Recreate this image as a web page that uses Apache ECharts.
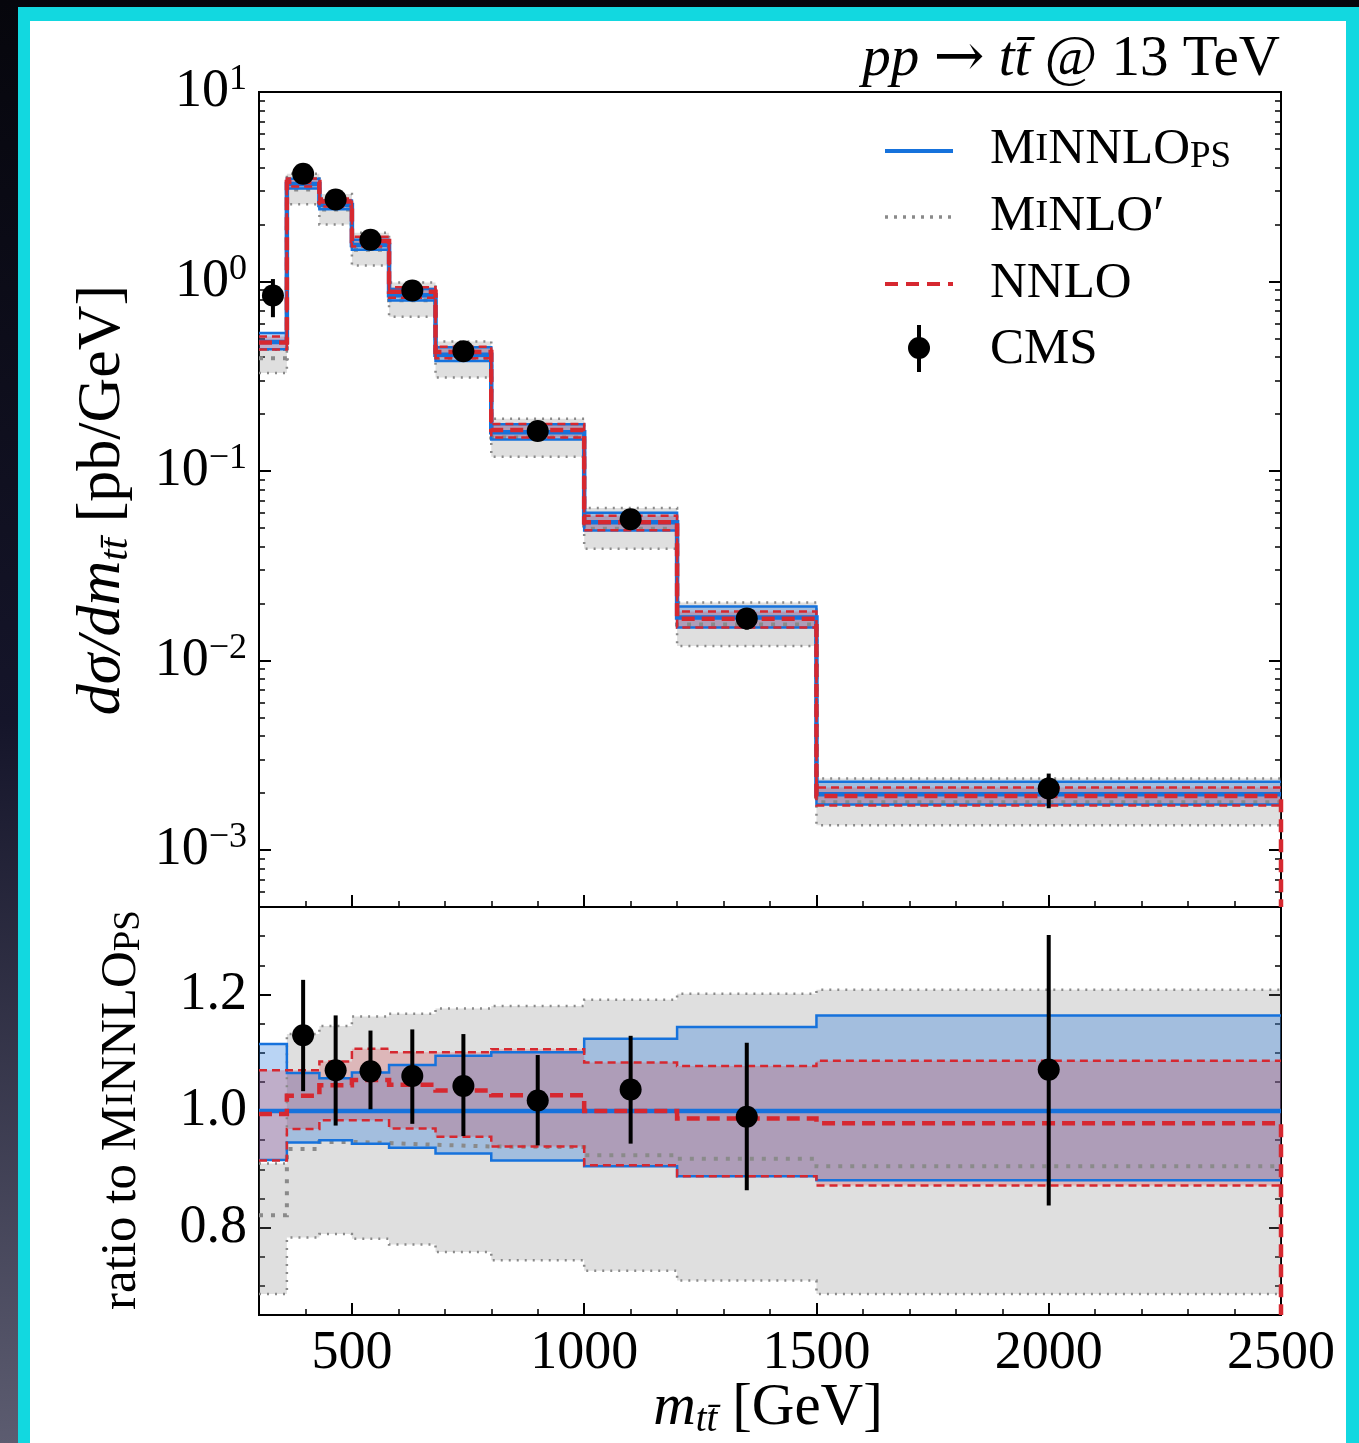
<!DOCTYPE html>
<html lang="en">
<head>
<meta charset="UTF-8">
<title>m_tt distribution</title>
<style>
    html, body {
        margin: 0;
        padding: 0;
        width: 1359px;
        height: 1443px;
        overflow: hidden;
        background: linear-gradient(180deg, #06060c 0%, #15152a 50%, #5c5c70 100%);
    }
    #frame {
        position: absolute;
        left: 18px;
        top: 7px;
        width: 1341px;
        height: 1436px;
        background: #12d8e0;
    }
    #paper {
        position: absolute;
        left: 30px;
        top: 21px;
        width: 1316px;
        height: 1422px;
        background: #fff;
    }
    #chart {
        position: absolute;
        left: 0;
        top: 0;
        width: 1359px;
        height: 1443px;
    }
</style>
</head>
<body>
<div id="frame"></div>
<div id="paper"></div>
<div id="chart"></div>

<script src="https://cdn.jsdelivr.net/npm/echarts@6/dist/echarts.min.js"></script>
<script>
    // bin edges in GeV
    const edges = [300, 360, 430, 500, 580, 680, 800, 1000, 1200, 1500, 2500];

    // upper panel, dsigma/dm in pb/GeV
    const minnloMid = [0.479, 3.27, 2.53, 1.556, 0.846, 0.411, 0.160, 0.0536, 0.01684, 0.00197];
    const minnloHi  = [0.534, 3.483, 2.672, 1.659, 0.913, 0.450, 0.1762, 0.0602, 0.01926, 0.002293];
    const minnloLo  = [0.439, 3.093, 2.404, 1.469, 0.793, 0.381, 0.1464, 0.0485, 0.01495, 0.001736];
    const minloMid  = [0.393, 3.057, 2.396, 1.470, 0.797, 0.386, 0.1501, 0.0495, 0.01546, 0.001783];
    const minloHi   = [0.436, 3.702, 2.899, 1.808, 0.987, 0.483, 0.1888, 0.0638, 0.02022, 0.00238];
    const minloLo   = [0.329, 2.560, 1.996, 1.215, 0.652, 0.3115, 0.1190, 0.0389, 0.01194, 0.001351];
    const nnloMid   = [0.477, 3.355, 2.641, 1.638, 0.884, 0.425, 0.1643, 0.0536, 0.01662, 0.001929];
    const nnloHi    = [0.513, 3.499, 2.745, 1.722, 0.931, 0.4525, 0.1770, 0.0580, 0.01814, 0.002139];
    const nnloLo    = [0.438, 3.169, 2.490, 1.531, 0.821, 0.393, 0.1502, 0.0486, 0.01495, 0.001718];

    const cmsX  = [330, 395, 465, 540, 630, 740, 900, 1100, 1350, 2000];
    const cmsY  = [0.844, 3.70, 2.71, 1.66, 0.897, 0.428, 0.1625, 0.0556, 0.01667, 0.00211];
    const cmsLo = [0.648, 3.39, 2.47, 1.56, 0.828, 0.393, 0.150, 0.0506, 0.01455, 0.00166];
    const cmsHi = [1.03, 4.01, 2.95, 1.77, 0.965, 0.465, 0.175, 0.0605, 0.0188, 0.00253];

    // lower panel, ratio to MiNNLO_PS
    const rMinnloMid = [1, 1, 1, 1, 1, 1, 1, 1, 1, 1];
    const rMinnloHi  = [1.115, 1.065, 1.056, 1.066, 1.079, 1.095, 1.101, 1.124, 1.144, 1.164];
    const rMinnloLo  = [0.916, 0.946, 0.950, 0.944, 0.937, 0.927, 0.915, 0.905, 0.888, 0.881];
    const rMinloMid  = [0.821, 0.935, 0.947, 0.945, 0.942, 0.939, 0.938, 0.924, 0.918, 0.905];
    const rMinloHi   = [0.91, 1.132, 1.146, 1.162, 1.167, 1.176, 1.180, 1.191, 1.201, 1.208];
    const rMinloLo   = [0.686, 0.783, 0.789, 0.781, 0.771, 0.758, 0.744, 0.726, 0.709, 0.686];
    const rNnloMid   = [0.995, 1.026, 1.044, 1.053, 1.045, 1.035, 1.027, 1.000, 0.987, 0.979];
    const rNnloHi    = [1.070, 1.070, 1.085, 1.107, 1.101, 1.101, 1.106, 1.083, 1.077, 1.086];
    const rNnloLo    = [0.915, 0.969, 0.984, 0.984, 0.970, 0.956, 0.939, 0.907, 0.888, 0.872];

    const rCmsX  = [395, 465, 540, 630, 740, 900, 1100, 1350, 2000];
    const rCmsY  = [1.130, 1.070, 1.068, 1.060, 1.043, 1.018, 1.037, 0.990, 1.071];
    const rCmsLo = [1.034, 0.975, 1.003, 0.978, 0.957, 0.941, 0.944, 0.864, 0.838];
    const rCmsHi = [1.225, 1.164, 1.138, 1.140, 1.132, 1.096, 1.129, 1.117, 1.302];

    // ticks
    const xMajor = [500, 1000, 1500, 2000, 2500];
    const xMinor = [400, 600, 700, 800, 900, 1100, 1200, 1300, 1400, 1600, 1700, 1800, 1900, 2100, 2200, 2300, 2400];
    const rMajor = [0.8, 1.0, 1.2];
    const rMinor = [0.7, 0.75, 0.85, 0.9, 0.95, 1.05, 1.1, 1.15, 1.25, 1.3];

    const yMin = 5e-4, yMax = 10;
    const rMin = 0.65, rMax = 1.35;

    // log-space positions of the 2..9 minor ticks
    const logMinor = [];
    for (let n = -4; n <= 0; n++) {
        for (let k = 2; k <= 9; k++) {
            const v = Math.log10(k) + n;
            if (v > Math.log10(yMin) && v < Math.log10(yMax)) logMinor.push(v);
        }
    }

    const FONT = '"Liberation Serif", "DejaVu Serif", serif';
    const BLUE = '#1672dc';
    const RED = '#d62830';
    const GRAY = '#8a8a8a';

    function stepData(vals, drop) {
        const d = vals.map((v, i) => [edges[i], v]);
        d.push([edges[edges.length - 1], vals[vals.length - 1]]);
        if (drop != null) d.push([edges[edges.length - 1], drop]);
        return d;
    }

    function stepLine(vals, panel, color, width, type, z, drop) {
        return {
            type: 'line',
            xAxisIndex: panel === 0 ? 0 : 2,
            yAxisIndex: panel === 0 ? 0 : 4,
            data: stepData(vals, drop),
            step: 'end',
            symbol: 'none',
            silent: true,
            z: z,
            lineStyle: { color: color, width: width, type: type, cap: 'butt', join: 'miter' }
        };
    }

    function band(lo, hi, panel, color, z) {
        return {
            type: 'custom',
            xAxisIndex: panel === 0 ? 0 : 2,
            yAxisIndex: panel === 0 ? 0 : 4,
            silent: true,
            z: z,
            data: [[edges[0], hi[0]]],
            renderItem: function (params, api) {
                const pts = [];
                for (let i = 0; i < hi.length; i++) {
                    pts.push(api.coord([edges[i], hi[i]]), api.coord([edges[i + 1], hi[i]]));
                }
                for (let i = lo.length - 1; i >= 0; i--) {
                    pts.push(api.coord([edges[i + 1], lo[i]]), api.coord([edges[i], lo[i]]));
                }
                return { type: 'polygon', shape: { points: pts }, style: { fill: color, stroke: null } };
            }
        };
    }

    function errBars(xs, lo, hi, panel, z) {
        return {
            type: 'custom',
            xAxisIndex: panel === 0 ? 0 : 2,
            yAxisIndex: panel === 0 ? 0 : 4,
            silent: true,
            z: z,
            data: xs.map((x, i) => [x, lo[i], hi[i]]),
            encode: { x: 0, y: [1, 2] },
            renderItem: function (params, api) {
                const a = api.coord([api.value(0), api.value(1)]);
                const b = api.coord([api.value(0), api.value(2)]);
                return {
                    type: 'line',
                    shape: { x1: a[0], y1: a[1], x2: b[0], y2: b[1] },
                    style: { stroke: '#000', lineWidth: 4 }
                };
            }
        };
    }

    function points(xs, ys, panel, z) {
        return {
            type: 'scatter',
            xAxisIndex: panel === 0 ? 0 : 2,
            yAxisIndex: panel === 0 ? 0 : 4,
            silent: true,
            z: z,
            symbol: 'circle',
            symbolSize: 22,
            itemStyle: { color: '#000', opacity: 1 },
            data: xs.map((x, i) => [x, ys[i]])
        };
    }

    const tickStyle = { color: '#000', width: 2 };
    const minorStyle = { color: '#000', width: 1.5 };

    function xAx(grid, ticks, len, labels) {
        return {
            type: 'value', gridIndex: grid, min: 300, max: 2500, position: 'bottom',
            axisLine: { show: false, onZero: false },
            splitLine: { show: false },
            axisTick: { show: true, inside: true, length: len, customValues: ticks, lineStyle: len > 8 ? tickStyle : minorStyle },
            axisLabel: labels ? {
                show: true, customValues: ticks, margin: 12, color: '#000',
                fontFamily: FONT, fontSize: 54, formatter: v => String(v)
            } : { show: false }
        };
    }

    function yTicksOnly(grid, pos, min, max, ticks, len) {
        return {
            type: 'value', gridIndex: grid, position: pos, min: min, max: max,
            axisLine: { show: false, onZero: false },
            splitLine: { show: false },
            axisTick: { show: true, inside: true, length: len, customValues: ticks, lineStyle: len > 8 ? tickStyle : minorStyle },
            axisLabel: { show: false }
        };
    }

    function logAx(pos, labels) {
        return {
            type: 'log', logBase: 10, gridIndex: 0, position: pos, min: yMin, max: yMax,
            axisLine: { show: false, onZero: false },
            splitLine: { show: false },
            minorTick: { show: false },
            axisTick: { show: true, inside: true, length: 12, lineStyle: tickStyle },
            axisLabel: labels ? {
                show: true, margin: 12, color: '#000',
                formatter: function (v) {
                    const l = Math.log10(v);
                    const e = Math.round(l);
                    if (Math.abs(l - e) > 1e-6) return '';
                    return '{b|10}{s|' + (e < 0 ? '\u2212' + (-e) : e) + '}';
                },
                rich: {
                    b: { fontFamily: FONT, fontSize: 54, lineHeight: 60, color: '#000' },
                    s: { fontFamily: FONT, fontSize: 36, lineHeight: 36, verticalAlign: 'top', color: '#000' }
                }
            } : { show: false }
        };
    }

    const chart = echarts.init(document.getElementById('chart'), null, { renderer: 'canvas' });

    const series = [
        // upper panel
        band(minloLo, minloHi, 0, 'rgba(128,128,128,0.25)', 1),
        band(minnloLo, minnloHi, 0, 'rgba(22,114,220,0.3)', 2),
        band(nnloLo, nnloHi, 0, 'rgba(214,40,48,0.22)', 3),
        stepLine(minloHi, 0, GRAY, 2.5, [2, 6], 4),
        stepLine(minloLo, 0, GRAY, 2.5, [2, 6], 4),
        stepLine(minloMid, 0, GRAY, 4, [4, 8], 4),
        stepLine(minnloHi, 0, BLUE, 2.5, 'solid', 5),
        stepLine(minnloLo, 0, BLUE, 2.5, 'solid', 5),
        stepLine(minnloMid, 0, BLUE, 4.5, 'solid', 5),
        stepLine(nnloHi, 0, RED, 2.5, [8, 5], 6),
        stepLine(nnloLo, 0, RED, 2.5, [8, 5], 6),
        stepLine(nnloMid, 0, RED, 4.5, [13, 7], 6, yMin),
        errBars(cmsX, cmsLo, cmsHi, 0, 7),
        points(cmsX, cmsY, 0, 8),
        // ratio panel
        band(rMinloLo, rMinloHi, 1, 'rgba(128,128,128,0.25)', 1),
        band(rMinnloLo, rMinnloHi, 1, 'rgba(22,114,220,0.3)', 2),
        band(rNnloLo, rNnloHi, 1, 'rgba(214,40,48,0.22)', 3),
        stepLine(rMinloHi, 1, GRAY, 2.5, [2, 6], 4),
        stepLine(rMinloLo, 1, GRAY, 2.5, [2, 6], 4),
        stepLine(rMinloMid, 1, GRAY, 4, [4, 8], 4),
        stepLine(rMinnloHi, 1, BLUE, 2.5, 'solid', 5),
        stepLine(rMinnloLo, 1, BLUE, 2.5, 'solid', 5),
        stepLine(rMinnloMid, 1, BLUE, 4.5, 'solid', 5),
        stepLine(rNnloHi, 1, RED, 2.5, [8, 5], 6),
        stepLine(rNnloLo, 1, RED, 2.5, [8, 5], 6),
        stepLine(rNnloMid, 1, RED, 4.5, [13, 7], 6, rMin),
        errBars(rCmsX, rCmsLo, rCmsHi, 1, 7),
        points(rCmsX, rCmsY, 1, 8)
    ];

    const legendRich = {
        sc: { fontFamily: FONT, fontSize: 39, color: '#000' },
        sub: { fontFamily: FONT, fontSize: 37, lineHeight: 38, verticalAlign: 'bottom', color: '#000' }
    };

    function label(x, y, text, rich, size, extra) {
        return Object.assign({
            type: 'text', x: x, y: y, silent: true, z: 20,
            style: {
                text: text, rich: rich, fill: '#000',
                font: size + 'px ' + FONT,
                align: 'left', verticalAlign: 'middle',
                textAlign: 'left', textVerticalAlign: 'middle'
            }
        }, extra || {});
    }

    const italicRich = size => ({
        i: { fontFamily: FONT, fontSize: size, fontStyle: 'italic', lineHeight: size + 6, color: '#000' },
        sub: { fontFamily: FONT, fontSize: Math.round(size * 0.66), fontStyle: 'italic', lineHeight: Math.round(size * 0.66), verticalAlign: 'bottom', color: '#000' },
        ar: { fontFamily: '"DejaVu Serif", serif', fontSize: size + 4, color: '#000' }
    });

    const graphics = [
        // legend keys
        { type: 'line', silent: true, z: 20, shape: { x1: 885, y1: 151, x2: 953, y2: 151 }, style: { stroke: BLUE, lineWidth: 4 } },
        { type: 'line', silent: true, z: 20, shape: { x1: 885, y1: 217, x2: 953, y2: 217 }, style: { stroke: GRAY, lineWidth: 3.5, lineDash: [3, 6] } },
        { type: 'line', silent: true, z: 20, shape: { x1: 885, y1: 284, x2: 953, y2: 284 }, style: { stroke: RED, lineWidth: 4, lineDash: [13, 8] } },
        { type: 'line', silent: true, z: 20, shape: { x1: 919, y1: 325, x2: 919, y2: 372 }, style: { stroke: '#000', lineWidth: 4 } },
        { type: 'circle', silent: true, z: 21, shape: { cx: 919, cy: 348, r: 11 }, style: { fill: '#000' } },
        // legend texts
        label(990, 150, 'M{sc|I}NNLO{sub|PS}', legendRich, 51),
        label(990, 217, 'M{sc|I}NLO\u2032', legendRich, 51),
        label(990, 284, 'NNLO', legendRich, 51),
        label(990, 350, 'CMS', legendRich, 51),
        // title
        label(1280, 60, '{i|pp} {ar|\u2192} {i|tt\u0304} @ 13 TeV', italicRich(57), 57),
        // axis titles
        label(103, 500, '{i|d\u03c3/dm}{sub|tt\u0304} [pb/GeV]', italicRich(62), 62, { rotation: Math.PI / 2 }),
        label(122, 1110, 'ratio to M{sc|I}NNLO{sub|PS}', {
            sc: { fontFamily: FONT, fontSize: 39, color: '#000' },
            sub: { fontFamily: FONT, fontSize: 37, lineHeight: 38, verticalAlign: 'bottom', color: '#000' }
        }, 51, { rotation: Math.PI / 2 }),
        label(768, 1408, '{i|m}{sub|tt\u0304} [GeV]', italicRich(59), 59)
    ];
    // title is right aligned, axis titles centred
    graphics[9].style.align = graphics[9].style.textAlign = 'right';
    [10, 11, 12].forEach(i => { graphics[i].style.align = graphics[i].style.textAlign = 'center'; });

    chart.setOption({
        animation: false,
        backgroundColor: 'transparent',
        grid: [
            { left: 259, right: 78, top: 92, height: 815, show: true, borderColor: '#000', borderWidth: 2, containLabel: false, outerBoundsMode: 'none' },
            { left: 259, right: 78, top: 907, height: 408, show: true, borderColor: '#000', borderWidth: 2, containLabel: false, outerBoundsMode: 'none' }
        ],
        xAxis: [
            xAx(0, xMajor, 12, false),
            xAx(0, xMinor, 6, false),
            xAx(1, xMajor, 12, true),
            xAx(1, xMinor, 6, false)
        ],
        yAxis: [
            logAx('left', true),
            logAx('right', false),
            yTicksOnly(0, 'left', Math.log10(yMin), Math.log10(yMax), logMinor, 6),
            yTicksOnly(0, 'right', Math.log10(yMin), Math.log10(yMax), logMinor, 6),
            Object.assign(yTicksOnly(1, 'left', rMin, rMax, rMajor, 12), {
                axisLabel: { show: true, customValues: rMajor, margin: 12, color: '#000', fontFamily: FONT, fontSize: 54,
                    formatter: v => v.toFixed(1) }
            }),
            yTicksOnly(1, 'right', rMin, rMax, rMajor, 12),
            yTicksOnly(1, 'left', rMin, rMax, rMinor, 6),
            yTicksOnly(1, 'right', rMin, rMax, rMinor, 6)
        ],
        series: series,
        graphic: { elements: graphics }
    });
</script>
</body>
</html>
